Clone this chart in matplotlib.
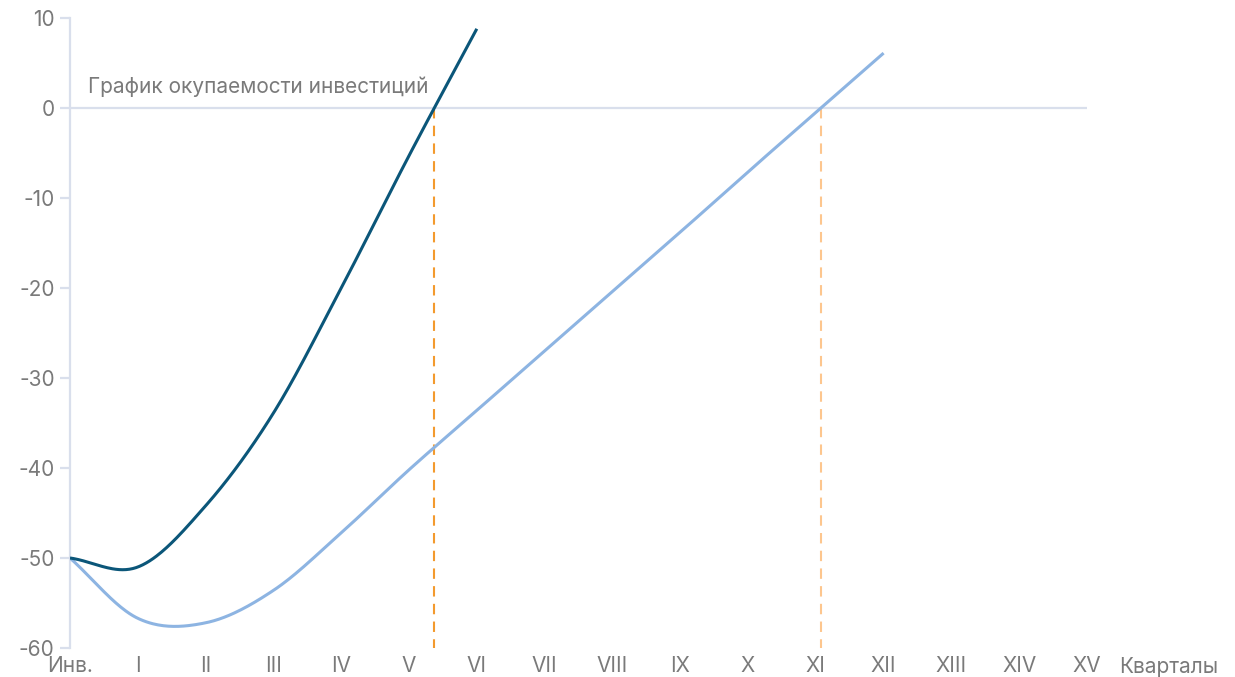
import numpy as np
import matplotlib
matplotlib.use("Agg")
import matplotlib.pyplot as plt
from matplotlib.transforms import blended_transform_factory

plt.rcParams['font.family'] = ['Inter', 'DejaVu Sans']

# Quarters on the horizontal axis
quarters = ["Инв.", "I", "II", "III", "IV", "V", "VI", "VII", "VIII",
            "IX", "X", "XI", "XII", "XIII", "XIV", "XV"]

# Cumulative cash flow, scenario A (fast payback)
flow_fast = [-50.0, -51.0, -44.2, -33.9, -20.0, -5.3, 8.8]
# Cumulative cash flow, scenario B (slow payback)
flow_slow = [-50.0, -56.7, -57.2, -53.6, -47.2, -40.2, -33.6, -27.0,
             -20.4, -13.8, -7.1, -0.5, 6.1]

y_ticks = [10, 0, -10, -20, -30, -40, -50, -60]

title_text = "График окупаемости инвестиций"
axis_name = "Кварталы"

C_FAST = "#0b5679"
C_SLOW = "#8db4e2"
C_MARK_FAST = "#f39a2e"
C_MARK_SLOW = "#fdc68e"
C_AXIS = "#d9dfec"
C_TEXT = "#7a7a7a"
FS = 15.0


def smooth(xs, ys, n=40):
    """Catmull-Rom spline through the points (smoothed line)."""
    xs = np.asarray(xs, float)
    ys = np.asarray(ys, float)
    px = np.concatenate([[2 * xs[0] - xs[1]], xs, [2 * xs[-1] - xs[-2]]])
    py = np.concatenate([[2 * ys[0] - ys[1]], ys, [2 * ys[-1] - ys[-2]]])
    outx, outy = [], []
    t = np.linspace(0, 1, n, endpoint=False)
    for i in range(1, len(px) - 2):
        p0x, p1x, p2x, p3x = px[i - 1:i + 3]
        p0y, p1y, p2y, p3y = py[i - 1:i + 3]
        b1x, b1y = p1x + (p2x - p0x) / 6, p1y + (p2y - p0y) / 6
        b2x, b2y = p2x - (p3x - p1x) / 6, p2y - (p3y - p1y) / 6
        mt = 1 - t
        outx.extend(mt**3 * p1x + 3 * mt**2 * t * b1x + 3 * mt * t**2 * b2x + t**3 * p2x)
        outy.extend(mt**3 * p1y + 3 * mt**2 * t * b1y + 3 * mt * t**2 * b2y + t**3 * p2y)
    outx.append(xs[-1])
    outy.append(ys[-1])
    return np.array(outx), np.array(outy)


def payback_point(ys):
    """Fractional quarter where the cumulative flow crosses zero."""
    for i in range(1, len(ys)):
        if ys[i - 1] < 0 <= ys[i]:
            return i - 1 + (0 - ys[i - 1]) / (ys[i] - ys[i - 1])
    return None


fig = plt.figure(figsize=(12.35, 6.77), dpi=100)
ax = fig.add_axes([70 / 1235, 1 - 648 / 677, (1087 - 70) / 1235, (648 - 18) / 677])

ax.set_xlim(0, len(quarters) - 1)
ax.set_ylim(-60, 10)

# zero line acting as horizontal axis
ax.axhline(0, color=C_AXIS, lw=1.6, zorder=1)

# payback markers
for ys, col in ((flow_fast, C_MARK_FAST), (flow_slow, C_MARK_SLOW)):
    xp = payback_point(ys)
    ax.plot([xp, xp], [0, -60], color=col, lw=1.5, ls=(0, (5, 3.5)), zorder=2,
            clip_on=False)

sx, sy = smooth(range(len(flow_slow)), flow_slow)
ax.plot(sx, sy, color=C_SLOW, lw=2.2, zorder=3, solid_capstyle='butt')
fx, fy = smooth(range(len(flow_fast)), flow_fast)
ax.plot(fx, fy, color=C_FAST, lw=2.2, zorder=4, solid_capstyle='butt')

for s in ("top", "right", "bottom"):
    ax.spines[s].set_visible(False)
ax.spines["left"].set_color(C_AXIS)
ax.spines["left"].set_linewidth(1.6)

ax.set_yticks(y_ticks)
ax.set_yticklabels([str(v) for v in y_ticks])
ax.tick_params(axis='y', direction='out', length=7, width=1.6, color=C_AXIS,
               labelcolor=C_TEXT, labelsize=FS, pad=4)
ax.set_xticks(range(len(quarters)))
ax.set_xticklabels(quarters)
ax.tick_params(axis='x', length=0, labelcolor=C_TEXT, labelsize=FS, pad=6)

trans = blended_transform_factory(ax.transData, ax.transAxes)
ax.text(15.48, -0.0135, axis_name, transform=trans, ha='left', va='top',
        color=C_TEXT, fontsize=FS)

ax.text(0.27, 2.4, title_text, ha='left', va='center', color=C_TEXT,
        fontsize=FS)

fig.savefig("out.png", dpi=100, facecolor="white")
